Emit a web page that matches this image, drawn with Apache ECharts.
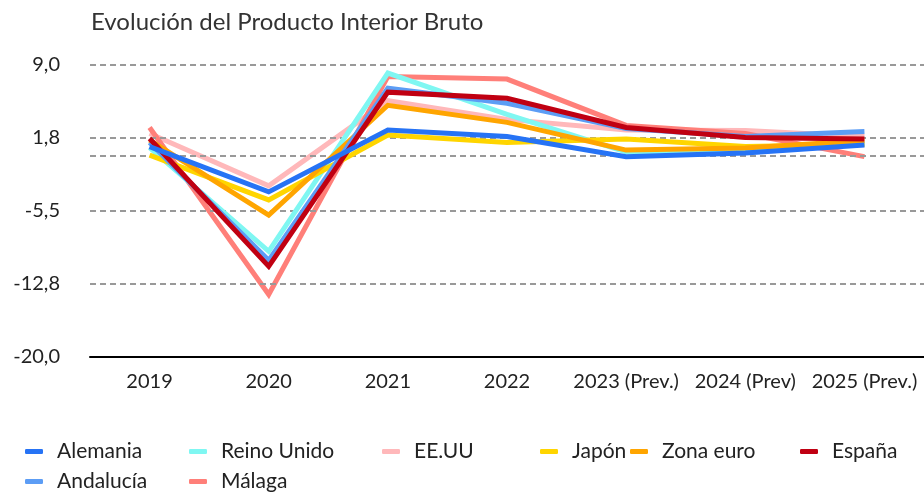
<!DOCTYPE html>
<html>
<head>
<meta charset="utf-8">
<script src="https://cdn.jsdelivr.net/npm/echarts@6/dist/echarts.min.js"></script>
<style>
  html, body { margin: 0; padding: 0; background: #fff; }
  #chart { width: 924px; height: 495px; }
</style>
</head>
<body>
<div id="chart"></div>
<script>
var years = ['2019', '2020', '2021', '2022', '2023 (Prev.)', '2024 (Prev)', '2025 (Prev.)'];
var yTicks = [-20, -12.75, -5.5, 1.75, 9];
var gridValues = [-12.75, -5.5, 0, 1.75, 9];

var alemania = [0.9, -3.6, 2.55, 1.9, -0.1, 0.25, 1.05];
var reinoUnido = [0.8, -9.5, 8.2, 4.1, 0.35, 0.55, 1.2];
var eeuu = [2.2, -3.0, 5.45, 3.6, 2.55, 2.5, 1.9];
var japon = [0.05, -4.4, 2.05, 1.3, 1.65, 0.9, 1.1];
var zonaEuro = [1.55, -5.9, 5.0, 3.3, 0.55, 0.75, 1.5];
var espana = [1.7, -11.0, 6.3, 5.7, 2.8, 1.8, 1.65];
var andalucia = [1.3, -10.4, 6.7, 5.2, 2.7, 1.9, 2.4];
var malaga = [2.8, -13.8, 7.85, 7.6, 3.0, 2.2, -0.1];

var names = ['Alemania', 'Reino Unido', 'EE.UU', 'Japón', 'Zona euro', 'España', 'Andalucía', 'Málaga'];
var colors = ['#2673F5', '#7FF7F2', '#FFB8BA', '#FFD500', '#FFA500', '#C00012', '#5C9DF5', '#FF7F79'];
var values = [alemania, reinoUnido, eeuu, japon, zonaEuro, espana, andalucia, malaga];
// which line sits on top of which
var stacking = [10, 5, 3, 6, 7, 9, 8, 4];

var font = 'Lato, "Noto Sans", sans-serif';

// legend laid out as a grid, like the original
var legendX = [20, 184, 377, 535, 625, 795, 20, 184];
var legendY = [436, 436, 436, 436, 436, 436, 466, 466];

var chart = echarts.init(document.getElementById('chart'));

var series = names.map(function (n, i) {
    return {
        name: n,
        type: 'line',
        data: values[i],
        symbol: 'none',
        lineStyle: { width: 5, color: colors[i], join: 'miter' },
        itemStyle: { color: colors[i] },
        z: stacking[i]
    };
});

// dashed guide lines
series.unshift({
    name: 'guides',
    type: 'line',
    data: [],
    silent: true,
    z: 1,
    markLine: {
        symbol: 'none',
        silent: true,
        label: { show: false },
        lineStyle: { color: '#999', type: [6, 4], width: 2 },
        data: gridValues.map(function (v) { return { yAxis: v }; })
    }
});

var option = {
    animation: false,
    title: {
        text: 'Evolución del Producto Interior Bruto',
        left: 86,
        top: 5,
        textStyle: { fontFamily: font, fontSize: 24, fontWeight: 'normal', color: '#333' }
    },
    legend: names.map(function (n, i) {
        return {
            data: [n],
            left: legendX[i],
            top: legendY[i],
            icon: 'roundRect',
            itemWidth: 18,
            itemHeight: 5,
            textStyle: { fontFamily: font, fontSize: 21, color: '#222', padding: [0, 0, 0, 9] }
        };
    }),
    grid: { left: 90, right: 0, top: 65, bottom: 138 },
    xAxis: {
        type: 'category',
        data: years,
        boundaryGap: true,
        axisLine: { onZero: false, lineStyle: { color: '#000', width: 2 } },
        axisTick: { show: false },
        axisLabel: { interval: 0, fontFamily: font, fontSize: 20, color: '#222', margin: 15 }
    },
    yAxis: {
        type: 'value',
        min: -20,
        max: 9,
        axisLine: { show: false },
        axisTick: { show: false },
        splitLine: { show: false },
        axisLabel: {
            customValues: yTicks,
            fontFamily: font,
            fontSize: 20,
            color: '#222',
            margin: 30,
            formatter: function (v) { return v.toFixed(1).replace('.', ','); }
        }
    },
    series: series
};

chart.setOption(option);
</script>
</body>
</html>
